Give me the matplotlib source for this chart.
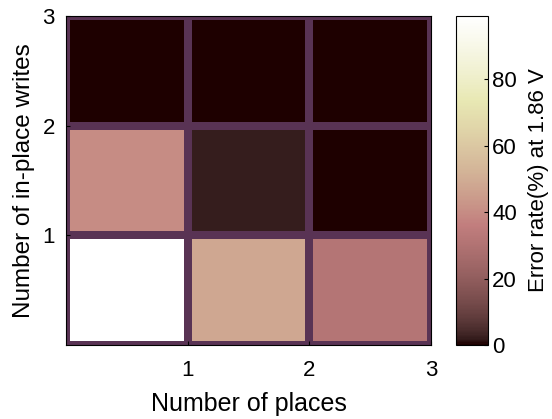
import numpy as np
import matplotlib
matplotlib.use("Agg")
import matplotlib.pyplot as plt

plt.rcParams['font.family'] = ['Liberation Sans', 'DejaVu Sans']

places = [1, 2, 3]
writes = [1, 2, 3]
# rows: in-place writes 1..3 (bottom to top), cols: places 1..3
err_w1 = [99, 48, 31]
err_w2 = [40, 2, 0]
err_w3 = [0, 0, 0]

data = np.array([err_w1, err_w2, err_w3])

fig = plt.figure(figsize=(5.52, 4.19), dpi=100)
ax = fig.add_axes([0.1196, 0.1766, 0.661, 0.785])
cax = fig.add_axes([0.826, 0.1766, 0.058, 0.785])

xe = np.arange(0, len(places) + 1)
ye = np.arange(0, len(writes) + 1)
mesh = ax.pcolormesh(xe, ye, data, cmap='pink', vmin=0, vmax=99,
                     edgecolors=(0.35, 0.2, 0.33), linewidth=4.5)
ax.set_xlim(0, 3)
ax.set_ylim(0, 3)
ax.set_xticks(places)
ax.set_yticks(writes)
ax.tick_params(direction='in', labelsize=16, length=3)
ax.tick_params(axis='x', pad=11)
ax.tick_params(axis='y', pad=8)
ax.set_xlabel("Number of places", fontsize=18, labelpad=8)
ax.set_ylabel("Number of in-place writes", fontsize=17.5, labelpad=5)

cb = fig.colorbar(mesh, cax=cax)
cb.set_ticks([0, 20, 40, 60, 80])
cb.ax.tick_params(direction='in', labelsize=16, length=3, pad=3)
cb.set_label("Error rate(%) at 1.86 V", fontsize=16, labelpad=8)

fig.savefig("out.png", dpi=100)
